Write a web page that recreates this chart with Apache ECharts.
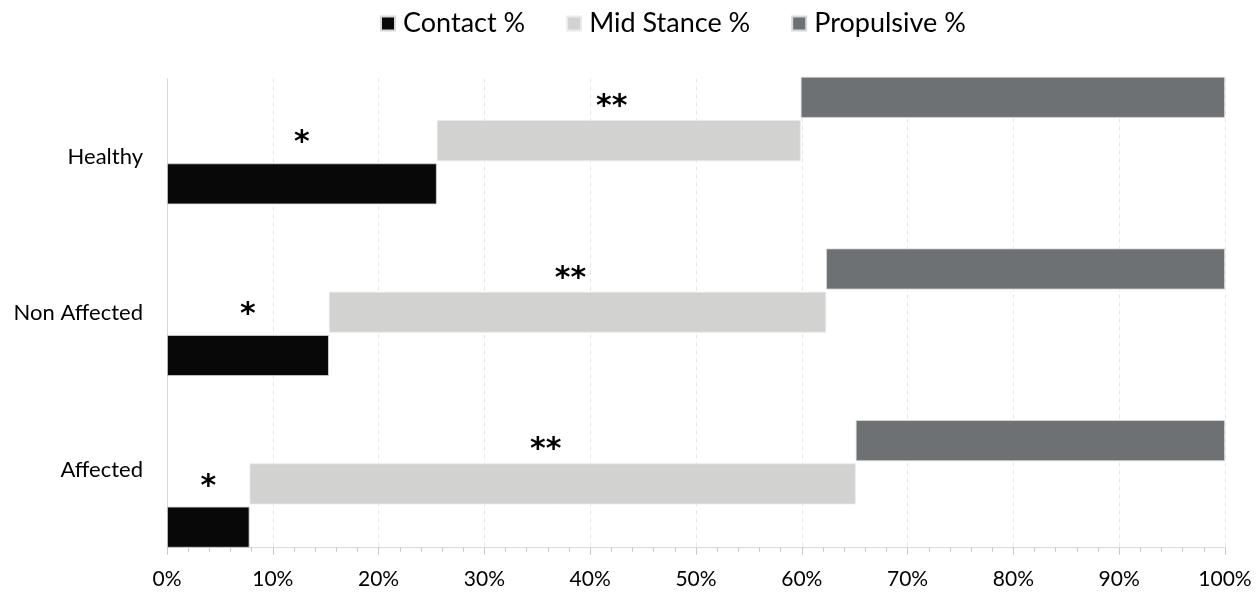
<!DOCTYPE html>
<html><head><meta charset="utf-8">
<script src="https://cdn.jsdelivr.net/npm/echarts@6/dist/echarts.min.js"></script>
<style>html,body{margin:0;padding:0;background:#fff}#c{width:1258px;height:593px}</style>
</head><body><div id="c"></div>
<script>
// Data (bottom to top on the axis)
const categories = ['Affected', 'Non Affected', 'Healthy'];
const contact = [7.8, 15.3, 25.5];
const midStance = [57.3, 47.0, 34.4];
const propulsive = [34.9, 37.7, 40.1];
const contactMarks = ['*', '*', '*'];
const midMarks = ['**', '**', '**'];
const seriesNames = ['Contact %', 'Mid Stance %', 'Propulsive %'];

const midBase = contact.slice();
const propBase = contact.map((v, i) => v + midStance[i]);

const FONT = 'Lato';
const chart = echarts.init(document.getElementById('c'), null, {renderer: 'canvas'});
const barCommon = {
  type: 'bar', xAxisIndex: 1, yAxisIndex: 1,
  barCategoryGap: '25.7%', barGap: '5.6%'
};
const baseStyle = {color: 'rgba(0,0,0,0)', borderWidth: 0};
const starLabel = {
  fontFamily: 'DejaVu Sans', fontSize: 30, fontWeight: 'bold', color: '#000'
};
chart.setOption({
  animation: false,
  textStyle: {fontFamily: FONT},
  legend: {
    data: seriesNames,
    left: 380, top: 10, padding: 0,
    itemWidth: 14, itemHeight: 14, itemGap: 41,
    icon: 'rect',
    textStyle: {fontFamily: FONT, fontSize: 27, color: '#000', padding: [0, 0, 0, 3]}
  },
  grid: [
    {left: 167, right: 33, top: 78.5, bottom: 45.3, containLabel: false},
    {left: 167, right: 33, top: 54.75, bottom: 23.25, containLabel: false}
  ],
  xAxis: [
    {
      type: 'value', gridIndex: 0, min: 0, max: 100, interval: 10,
      axisLine: {show: true, lineStyle: {color: '#d9d9d9', width: 1}},
      axisTick: {show: true, length: 7, lineStyle: {color: '#c8c8c8'}},
      minorTick: {show: true, splitNumber: 5, length: 4, lineStyle: {color: '#c8c8c8'}},
      splitLine: {show: true, lineStyle: {color: '#e6e6e6', type: [4, 4]}},
      axisLabel: {formatter: '{value}%', fontFamily: FONT, fontSize: 21, color: '#000', margin: 21}
    },
    {type: 'value', gridIndex: 1, min: 0, max: 100, show: false}
  ],
  yAxis: [
    {
      type: 'category', gridIndex: 0, data: categories,
      axisLine: {show: true, lineStyle: {color: '#d9d9d9'}},
      axisTick: {show: false},
      axisLabel: {fontFamily: FONT, fontSize: 22, color: '#000', margin: 24}
    },
    {type: 'category', gridIndex: 1, data: categories, show: false}
  ],
  series: [
    // slot order: first stack is drawn on top of each group
    Object.assign({}, barCommon, {
      name: 'propBase', stack: 'p', data: propBase, silent: true,
      itemStyle: baseStyle, tooltip: {show: false}
    }),
    Object.assign({}, barCommon, {
      name: seriesNames[2], stack: 'p', data: propulsive,
      itemStyle: {color: '#6d7173', borderColor: '#d8d8d8', borderWidth: 0.8}
    }),
    Object.assign({}, barCommon, {
      name: 'midBase', stack: 'm', data: midBase, silent: true,
      itemStyle: baseStyle, tooltip: {show: false}
    }),
    Object.assign({}, barCommon, {
      name: seriesNames[1], stack: 'm', data: midStance,
      itemStyle: {color: '#d2d2d0', borderColor: '#ebebeb', borderWidth: 0.8},
      label: Object.assign({show: true, position: 'top', distance: -2, offset: [-7, 0],
        formatter: p => midMarks[p.dataIndex]}, starLabel)
    }),
    Object.assign({}, barCommon, {
      name: seriesNames[0], stack: 'c', data: contact,
      itemStyle: {color: '#080808', borderColor: '#d8d8d8', borderWidth: 0.8},
      label: Object.assign({show: true, position: 'top', distance: 5,
        formatter: p => contactMarks[p.dataIndex]}, starLabel)
    })
  ]
});
</script></body></html>
